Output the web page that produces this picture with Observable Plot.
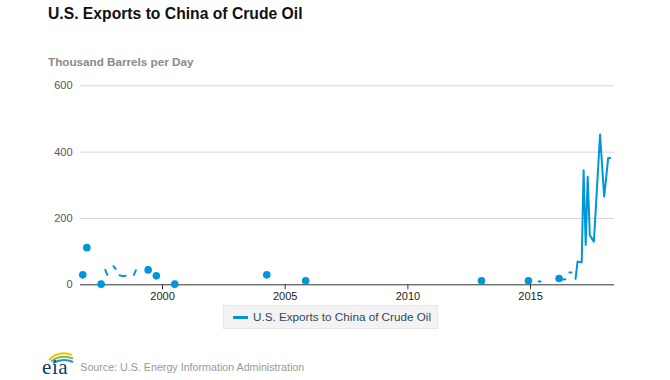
<!DOCTYPE html>
<html><head><meta charset="utf-8">
<script src="https://cdn.jsdelivr.net/npm/d3@7"></script>
<script src="https://cdn.jsdelivr.net/npm/@observablehq/plot@0.6"></script>
<style>
body{margin:0;background:#fff;font-family:"Liberation Sans",Arial,sans-serif;}
#wrap{position:relative;width:670px;height:380px;overflow:hidden;background:#fff;}
#title{position:absolute;left:48px;top:6px;font-size:15.7px;line-height:16px;font-weight:bold;color:#111;white-space:nowrap;}
#ylab{position:absolute;left:48px;top:55.6px;font-size:11.7px;line-height:12px;font-weight:bold;color:#8a8a8a;white-space:nowrap;}
#chart{position:absolute;left:0;top:70px;}
#legend{position:absolute;left:223px;top:305px;width:213px;height:22px;background:#f3f3f3;border:1px solid #e6e6e6;}
#legend .sw{position:absolute;left:9px;top:10px;width:15px;height:2.5px;background:#0096d7;}
#legend .tx{position:absolute;left:29px;top:0;line-height:22px;font-size:11.7px;color:#33475b;white-space:nowrap;}
#source{position:absolute;left:80.3px;top:360.6px;font-size:10.7px;line-height:12px;color:#999;white-space:nowrap;}
#logo{position:absolute;left:40px;top:347px;}
</style></head><body>
<div id="wrap">
  <div id="title">U.S. Exports to China of Crude Oil</div>
  <div id="ylab">Thousand Barrels per Day</div>
  <div id="chart"></div>
  <div id="legend"><span class="sw"></span><span class="tx">U.S. Exports to China of Crude Oil</span></div>
  <svg id="logo" width="38" height="31" viewBox="0 0 38 31">
    <path d="M9 13 Q19 3 32 8" fill="none" stroke="#f2c200" stroke-width="2"/>
    <path d="M11 14.5 Q21 7 33 11.5" fill="none" stroke="#7dbb42" stroke-width="2"/>
    <path d="M13 16 Q23 10.5 33 15" fill="none" stroke="#1f8fd6" stroke-width="2"/>
    <text x="2" y="27" font-family="Liberation Serif, DejaVu Serif, serif" font-size="21" fill="#0b3b6e" letter-spacing="0.6">eia</text>
  </svg>
  <div id="source">Source: U.S. Energy Information Administration</div>
</div>
<script>
// Observed months (gaps = no data) and values, thousand barrels per day
const months = ["1996-10","1996-12","1997-07","1997-09","1997-10","1998-01","1998-02","1998-04","1998-05","1998-06","1998-07","1998-11","1998-12","1999-06","1999-10","2000-07","2004-04","2005-11","2013-01","2014-12","2015-05","2015-06","2016-03","2016-05","2016-06","2016-08","2016-09","2016-11","2016-12","2017-01","2017-02","2017-03","2017-04","2017-05","2017-06","2017-07","2017-08","2017-09","2017-10","2017-11","2017-12","2018-01","2018-02","2018-03","2018-04"];
const values = [30,112,2,45,30,56,48,29,27,26,27,30,44,45,27,2,30,12,12,12,10,10,19,16,17,37,37,18,70,69,68,345,120,326,150,140,130,238,345,453,360,266,324,382,382];
const yTicks = [0,200,400,600];
const xTickYears = [2000,2005,2010,2015];
const seriesName = "U.S. Exports to China of Crude Oil";
const blue = "#0096d7";

// Build a full monthly table with nulls in missing months so the line breaks
const parse = s => { const [y,m] = s.split("-").map(Number); return {y, m}; };
const lookup = new Map(months.map((s,i)=>[s, values[i]]));
const first = parse(months[0]), last = parse(months[months.length-1]);
const table = [];
for (let y = first.y, m = first.m; y < last.y || (y === last.y && m <= last.m); ) {
  const key = `${y}-${String(m).padStart(2,"0")}`;
  table.push({date: new Date(Date.UTC(y, m-1, 1)), value: lookup.has(key) ? lookup.get(key) : null});
  m++; if (m > 12) { m = 1; y++; }
}
const isolated = table.filter((d,i) => d.value != null &&
  (i === 0 || table[i-1].value == null) && (i === table.length-1 || table[i+1].value == null));

const chart = Plot.plot({
  width: 670, height: 240,
  marginLeft: 80, marginRight: 56, marginTop: 15.3, marginBottom: 25.7,
  style: {fontFamily: "Liberation Sans, Arial, sans-serif", fontSize: "11px", background: "transparent", overflow: "visible"},
  x: {type: "utc", domain: [new Date(Date.UTC(1996,7,28)), new Date(Date.UTC(2018,5,4))]},
  y: {domain: [0, 600]},
  marks: [
    Plot.ruleY(yTicks.filter(d => d > 0), {stroke: "#d6d6d6", strokeWidth: 1}),
    Plot.axisY({ticks: yTicks, tickSize: 0, tickPadding: 8, fill: "#555", label: null}),
    Plot.axisX({ticks: xTickYears.map(y => new Date(Date.UTC(y,0,1))), tickFormat: d3.utcFormat("%Y"), tickSize: 5, tickPadding: 2, stroke: "#333", fill: "#222", label: null}),
    Plot.ruleY([0], {stroke: "#333", strokeWidth: 1}),
    Plot.line(table, {x: "date", y: "value", stroke: blue, strokeWidth: 2}),
    Plot.dot(isolated, {x: "date", y: "value", r: 3.8, fill: blue, stroke: "none"})
  ]
});
document.getElementById("chart").append(chart);
</script>
</body></html>
